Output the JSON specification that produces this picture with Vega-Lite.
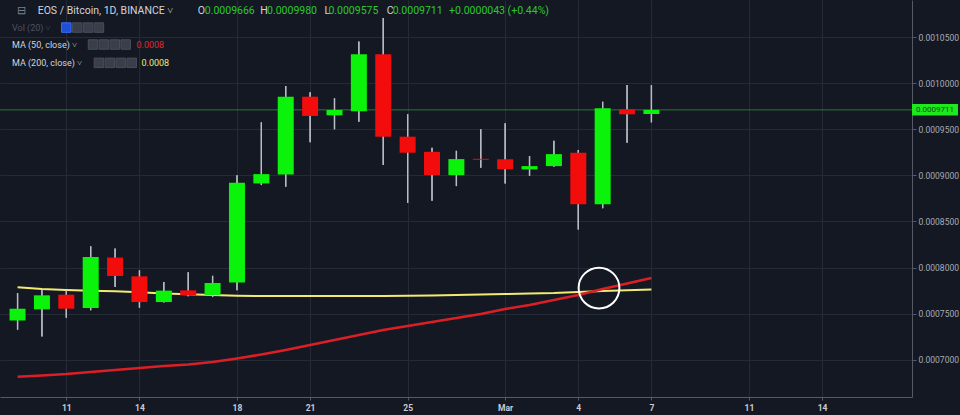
{
  "$schema": "https://vega.github.io/schema/vega-lite/v6.json",
  "width": 912,
  "height": 397,
  "autosize": {"type": "none"},
  "padding": {"left": 0, "top": 0, "right": 48, "bottom": 18},
  "background": "#141823",
  "config": {
    "view": {"stroke": null},
    "axis": {"labelFont": "Roboto", "gridColor": "#252a37", "gridWidth": 1, "domainColor": "#565a66", "tickColor": "#565a66"}
  },
  "datasets": {
    "candles": [
      {"d": "2019-02-09", "o": 0.0007427, "h": 0.0007724, "l": 0.0007326, "c": 0.0007554, "ma50": 0.0006816, "ma200": 0.0007786},
      {"d": "2019-02-10", "o": 0.0007547, "h": 0.0007761, "l": 0.0007253, "c": 0.0007699, "ma50": 0.0006829, "ma200": 0.0007767},
      {"d": "2019-02-11", "o": 0.0007706, "h": 0.0007753, "l": 0.0007456, "c": 0.0007554, "ma50": 0.0006845, "ma200": 0.0007757},
      {"d": "2019-02-12", "o": 0.0007561, "h": 0.0008231, "l": 0.0007536, "c": 0.0008115, "ma50": 0.0006867, "ma200": 0.0007749},
      {"d": "2019-02-13", "o": 0.0008109, "h": 0.0008206, "l": 0.0007789, "c": 0.0007909, "ma50": 0.0006889, "ma200": 0.0007743},
      {"d": "2019-02-14", "o": 0.0007905, "h": 0.0007971, "l": 0.0007565, "c": 0.0007626, "ma50": 0.0006910, "ma200": 0.0007732},
      {"d": "2019-02-15", "o": 0.0007626, "h": 0.0007843, "l": 0.0007620, "c": 0.0007750, "ma50": 0.0006932, "ma200": 0.0007719},
      {"d": "2019-02-16", "o": 0.0007753, "h": 0.0007949, "l": 0.0007688, "c": 0.0007699, "ma50": 0.0006948, "ma200": 0.0007710},
      {"d": "2019-02-17", "o": 0.0007702, "h": 0.0007911, "l": 0.0007680, "c": 0.0007833, "ma50": 0.0006976, "ma200": 0.0007702},
      {"d": "2019-02-18", "o": 0.0007837, "h": 0.0009003, "l": 0.0007753, "c": 0.0008920, "ma50": 0.0007014, "ma200": 0.0007695},
      {"d": "2019-02-19", "o": 0.0008913, "h": 0.0009576, "l": 0.0008895, "c": 0.0009014, "ma50": 0.0007057, "ma200": 0.0007692},
      {"d": "2019-02-20", "o": 0.0009011, "h": 0.0009971, "l": 0.0008876, "c": 0.0009854, "ma50": 0.0007106, "ma200": 0.0007692},
      {"d": "2019-02-21", "o": 0.0009854, "h": 0.0009902, "l": 0.0009359, "c": 0.0009645, "ma50": 0.0007160, "ma200": 0.0007692},
      {"d": "2019-02-22", "o": 0.0009652, "h": 0.0009837, "l": 0.0009500, "c": 0.0009710, "ma50": 0.0007214, "ma200": 0.0007692},
      {"d": "2019-02-23", "o": 0.0009696, "h": 0.0010452, "l": 0.0009583, "c": 0.0010315, "ma50": 0.0007268, "ma200": 0.0007692},
      {"d": "2019-02-24", "o": 0.0010315, "h": 0.0010707, "l": 0.0009112, "c": 0.0009420, "ma50": 0.0007323, "ma200": 0.0007692},
      {"d": "2019-02-25", "o": 0.0009420, "h": 0.0009663, "l": 0.0008702, "c": 0.0009246, "ma50": 0.0007366, "ma200": 0.0007694},
      {"d": "2019-02-26", "o": 0.0009256, "h": 0.0009300, "l": 0.0008724, "c": 0.0009003, "ma50": 0.0007410, "ma200": 0.0007697},
      {"d": "2019-02-27", "o": 0.0009003, "h": 0.0009267, "l": 0.0008884, "c": 0.0009177, "ma50": 0.0007453, "ma200": 0.0007702},
      {"d": "2019-02-28", "o": 0.0009180, "h": 0.0009500, "l": 0.0009083, "c": 0.0009170, "ma50": 0.0007496, "ma200": 0.0007708},
      {"d": "2019-03-01", "o": 0.0009174, "h": 0.0009565, "l": 0.0008913, "c": 0.0009068, "ma50": 0.0007551, "ma200": 0.0007713},
      {"d": "2019-03-02", "o": 0.0009065, "h": 0.0009210, "l": 0.0008996, "c": 0.0009101, "ma50": 0.0007594, "ma200": 0.0007719},
      {"d": "2019-03-03", "o": 0.0009101, "h": 0.0009376, "l": 0.0009095, "c": 0.0009231, "ma50": 0.0007648, "ma200": 0.0007724},
      {"d": "2019-03-04", "o": 0.0009246, "h": 0.0009275, "l": 0.0008413, "c": 0.0008688, "ma50": 0.0007702, "ma200": 0.0007735},
      {"d": "2019-03-05", "o": 0.0008688, "h": 0.0009800, "l": 0.0008645, "c": 0.0009728, "ma50": 0.0007767, "ma200": 0.0007746},
      {"d": "2019-03-06", "o": 0.0009717, "h": 0.0009982, "l": 0.0009354, "c": 0.0009663, "ma50": 0.0007827, "ma200": 0.0007753},
      {"d": "2019-03-07", "o": 0.0009666, "h": 0.0009980, "l": 0.0009575, "c": 0.0009711, "ma50": 0.0007887, "ma200": 0.0007762}
    ],
    "last": [{"d": "2019-03-07", "c": 0.0009711, "label": "0.0009711"}],
    "cross": [{"t": "2019-03-04T20:24:00Z", "p": 0.0007778}],
    "notes": [
      {"t": "2019-02-08T23:18:00Z", "p": 0.0010781, "row": 1, "kind": "sym", "text": "⊟"},
      {"t": "2019-02-09T19:48:00Z", "p": 0.0010781, "row": 1, "kind": "label", "text": "EOS / Bitcoin, 1D, BINANCE ˅"},
      {"t": "2019-02-16T09:30:00Z", "p": 0.0010781, "row": 1, "kind": "label", "text": "O"},
      {"t": "2019-02-16T16:18:00Z", "p": 0.0010781, "row": 1, "kind": "num", "text": "0.0009666"},
      {"t": "2019-02-18T22:48:00Z", "p": 0.0010781, "row": 1, "kind": "label", "text": "H"},
      {"t": "2019-02-19T05:36:00Z", "p": 0.0010781, "row": 1, "kind": "num", "text": "0.0009980"},
      {"t": "2019-02-21T14:06:00Z", "p": 0.0010781, "row": 1, "kind": "label", "text": "L"},
      {"t": "2019-02-21T18:00:00Z", "p": 0.0010781, "row": 1, "kind": "num", "text": "0.0009575"},
      {"t": "2019-02-24T03:24:00Z", "p": 0.0010781, "row": 1, "kind": "label", "text": "C"},
      {"t": "2019-02-24T09:18:00Z", "p": 0.0010781, "row": 1, "kind": "num", "text": "0.0009711"},
      {"t": "2019-02-26T16:48:00Z", "p": 0.0010781, "row": 1, "kind": "num", "text": "+0.0000043 (+0.44%)"},
      {"t": "2019-02-08T18:30:00Z", "p": 0.0010604, "row": 2, "kind": "dim", "text": "Vol (20) ˅"},
      {"t": "2019-02-08T18:30:00Z", "p": 0.0010420, "row": 3, "kind": "label", "text": "MA (50, close) ˅"},
      {"t": "2019-02-13T21:06:00Z", "p": 0.0010420, "row": 3, "kind": "ma50", "text": "0.0008"},
      {"t": "2019-02-08T18:30:00Z", "p": 0.0010221, "row": 4, "kind": "label", "text": "MA (200, close) ˅"},
      {"t": "2019-02-14T02:00:00Z", "p": 0.0010221, "row": 4, "kind": "ma200", "text": "0.0008"}
    ],
    "icons": [
      {"t": "2019-02-11T00:00:00Z", "p": 0.0010604, "on": true},
      {"t": "2019-02-11T10:42:00Z", "p": 0.0010604, "on": false},
      {"t": "2019-02-11T21:24:00Z", "p": 0.0010604, "on": false},
      {"t": "2019-02-12T08:06:00Z", "p": 0.0010604, "on": false},
      {"t": "2019-02-12T02:18:00Z", "p": 0.0010420, "on": false},
      {"t": "2019-02-12T13:00:00Z", "p": 0.0010420, "on": false},
      {"t": "2019-02-12T23:42:00Z", "p": 0.0010420, "on": false},
      {"t": "2019-02-13T10:24:00Z", "p": 0.0010420, "on": false},
      {"t": "2019-02-12T08:06:00Z", "p": 0.0010221, "on": false},
      {"t": "2019-02-12T18:48:00Z", "p": 0.0010221, "on": false},
      {"t": "2019-02-13T05:30:00Z", "p": 0.0010221, "on": false},
      {"t": "2019-02-13T16:18:00Z", "p": 0.0010221, "on": false}
    ]
  },
  "layer": [
    {
      "data": {"name": "candles"},
      "mark": {"type": "rule", "color": "#b9bcc4", "strokeWidth": 1.3},
      "encoding": {
        "x": {
          "field": "d", "type": "temporal",
          "scale": {"type": "utc", "domain": [
            {"year": 2019, "month": 2, "date": 8, "hours": 11, "minutes": 38, "utc": true},
            {"year": 2019, "month": 3, "date": 17, "hours": 11, "minutes": 36, "utc": true}
          ]},
          "axis": {
            "title": null,
            "orient": "bottom",
            "values": [
              {"year": 2019, "month": 2, "date": 11, "utc": true},
              {"year": 2019, "month": 2, "date": 14, "utc": true},
              {"year": 2019, "month": 2, "date": 18, "utc": true},
              {"year": 2019, "month": 2, "date": 21, "utc": true},
              {"year": 2019, "month": 2, "date": 25, "utc": true},
              {"year": 2019, "month": 3, "date": 1, "utc": true},
              {"year": 2019, "month": 3, "date": 4, "utc": true},
              {"year": 2019, "month": 3, "date": 7, "utc": true},
              {"year": 2019, "month": 3, "date": 11, "utc": true},
              {"year": 2019, "month": 3, "date": 14, "utc": true}
            ],
            "labelExpr": "utcdate(datum.value) == 1 ? 'Mar' : '' + utcdate(datum.value)",
            "labelColor": "#c9ccd4", "labelFontSize": 8.5, "labelFontWeight": "bold",
            "tickSize": 3, "labelPadding": 3, "grid": true, "labelFlush": false, "labelOverlap": false
          }
        },
        "y": {
          "field": "l", "type": "quantitative",
          "scale": {"domain": [0.0006596, 0.0010903], "nice": false, "zero": false},
          "axis": {
            "title": null,
            "orient": "right",
            "values": [0.0007, 0.00075, 0.0008, 0.00085, 0.0009, 0.00095, 0.001, 0.00105],
            "format": ".7f",
            "labelColor": "#a8abb4", "labelFontSize": 8.5,
            "tickSize": 4, "labelPadding": 2, "grid": true
          }
        },
        "y2": {"field": "h"}
      }
    },
    {
      "data": {"name": "last"},
      "mark": {"type": "rule", "color": "#2f8a36", "strokeWidth": 1, "opacity": 0.85},
      "encoding": {
        "y": {"field": "c", "type": "quantitative"}
      }
    },
    {
      "data": {"name": "candles"},
      "mark": {"type": "line", "color": "#f3ea72", "strokeWidth": 2},
      "encoding": {
        "x": {"field": "d", "type": "temporal"},
        "y": {"field": "ma200", "type": "quantitative"}
      }
    },
    {
      "data": {"name": "candles"},
      "mark": {"type": "line", "color": "#dc1f27", "strokeWidth": 2.5},
      "encoding": {
        "x": {"field": "d", "type": "temporal"},
        "y": {"field": "ma50", "type": "quantitative"}
      }
    },
    {
      "data": {"name": "candles"},
      "mark": {"type": "rule", "color": "#b9bcc4", "strokeWidth": 1.3},
      "encoding": {
        "x": {"field": "d", "type": "temporal"},
        "y": {"field": "l", "type": "quantitative"},
        "y2": {"field": "h"}
      }
    },
    {
      "data": {"name": "candles"},
      "mark": {"type": "bar", "size": 16},
      "encoding": {
        "x": {"field": "d", "type": "temporal"},
        "y": {"field": "o", "type": "quantitative"},
        "y2": {"field": "c"},
        "color": {"condition": {"test": "datum.c >= datum.o", "value": "#0bf20b"}, "value": "#f20c0c"}
      }
    },
    {
      "data": {"name": "cross"},
      "mark": {"type": "point", "shape": "circle", "filled": false, "stroke": "#ffffff", "strokeWidth": 2, "size": 1662, "opacity": 1},
      "encoding": {
        "x": {"field": "t", "type": "temporal"},
        "y": {"field": "p", "type": "quantitative"}
      }
    },
    {
      "data": {"name": "icons"},
      "mark": {"type": "point", "shape": "square", "filled": true, "size": 90, "opacity": 1, "strokeWidth": 1},
      "encoding": {
        "x": {"field": "t", "type": "temporal"},
        "y": {"field": "p", "type": "quantitative"},
        "fill": {"condition": {"test": "datum.on", "value": "#1d4fd8"}, "value": "#3a3e4a"},
        "stroke": {"condition": {"test": "datum.on", "value": "#3d6ef5"}, "value": "#4a4e5a"}
      }
    },
    {
      "data": {"name": "notes"},
      "transform": [{"filter": "datum.row == 1"}],
      "mark": {"type": "text", "align": "left", "baseline": "middle", "font": "Roboto", "fontSize": 10.5},
      "encoding": {
        "x": {"field": "t", "type": "temporal"},
        "y": {"field": "p", "type": "quantitative"},
        "text": {"field": "text"},
        "color": {"field": "kind", "type": "nominal", "legend": null,
          "scale": {"domain": ["label", "num", "dim", "ma50", "ma200", "sym"], "range": ["#d1d4dc", "#2bc82b", "#4c5163", "#e0262b", "#f2e86d", "#7c808c"]}}
      }
    },
    {
      "data": {"name": "notes"},
      "transform": [{"filter": "datum.row > 1"}],
      "mark": {"type": "text", "align": "left", "baseline": "middle", "font": "Roboto", "fontSize": 9},
      "encoding": {
        "x": {"field": "t", "type": "temporal"},
        "y": {"field": "p", "type": "quantitative"},
        "text": {"field": "text"},
        "color": {"field": "kind", "type": "nominal", "legend": null}
      }
    },
    {
      "data": {"name": "last"},
      "mark": {"type": "point", "shape": "M-1,-0.25L1,-0.25L1,0.25L-1,0.25Z", "filled": true, "size": 2116, "opacity": 1, "fill": "#1ee81e", "xOffset": 23},
      "encoding": {
        "x": {"value": "width"},
        "y": {"field": "c", "type": "quantitative"}
      }
    },
    {
      "data": {"name": "last"},
      "mark": {"type": "text", "align": "center", "baseline": "middle", "font": "Roboto", "fontSize": 8, "color": "#0c4f0c", "xOffset": 23},
      "encoding": {
        "x": {"value": "width"},
        "y": {"field": "c", "type": "quantitative"},
        "text": {"field": "label"}
      }
    }
  ]
}
